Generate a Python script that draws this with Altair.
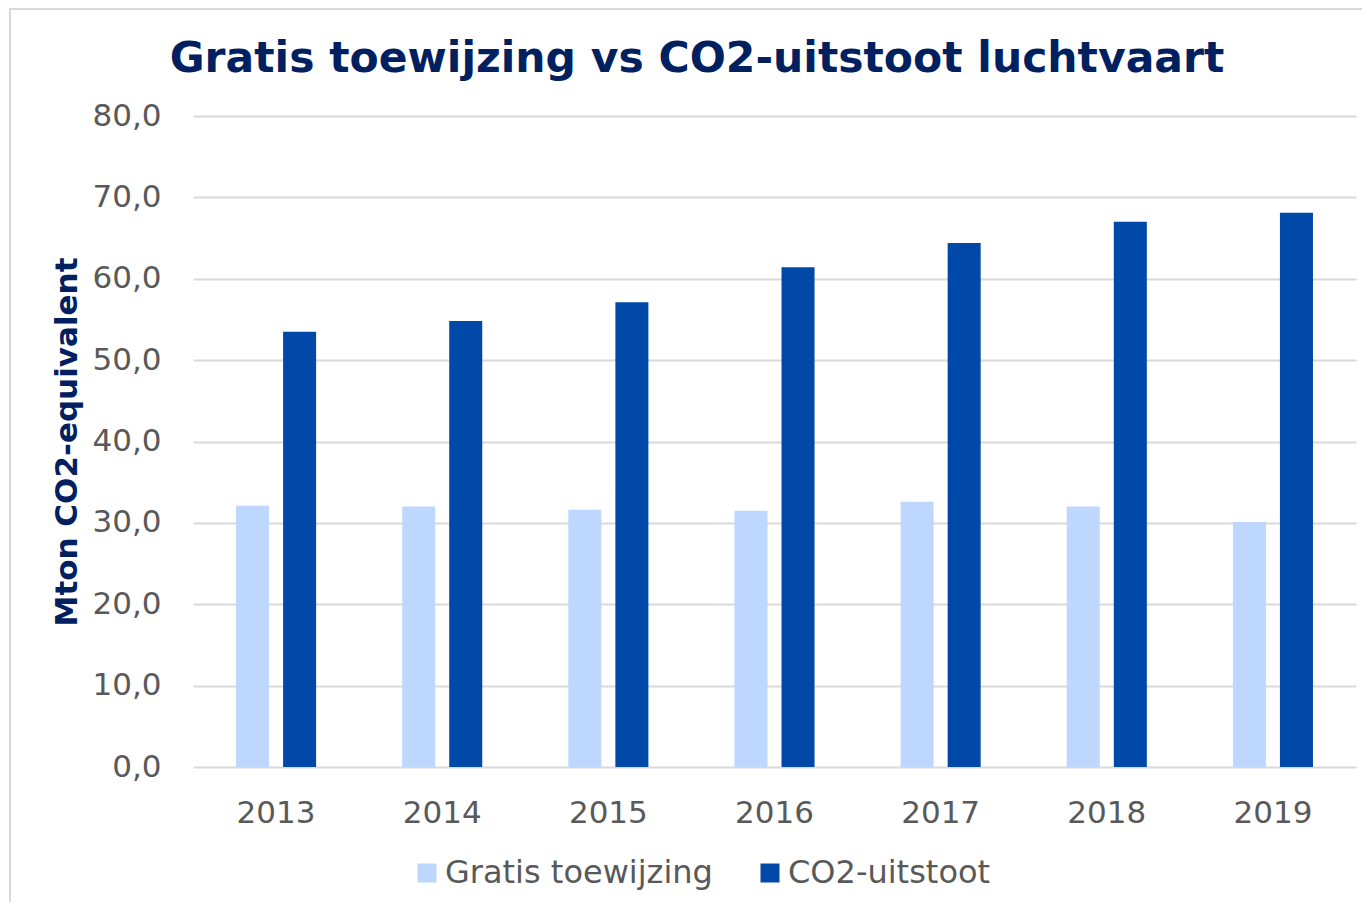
import altair as alt
import pandas as pd

years = ["2013", "2014", "2015", "2016", "2017", "2018", "2019"]
series_names = ["Gratis toewijzing", "CO2-uitstoot"]
gratis = [32.1, 32.0, 31.6, 31.5, 32.6, 32.0, 30.1]
uitstoot = [53.5, 54.8, 57.1, 61.4, 64.4, 67.0, 68.1]
colors = ["#BDD7FE", "#0049A8"]
y_ticks = [0, 10, 20, 30, 40, 50, 60, 70, 80]
title_text = "Gratis toewijzing vs CO2-uitstoot luchtvaart"

rows = []
for i, y in enumerate(years):
    rows.append({"year": y, "series": series_names[0], "value": gratis[i]})
    rows.append({"year": y, "series": series_names[1], "value": uitstoot[i]})
df = pd.DataFrame(rows)

FONT = "DejaVu Sans"
GRAY = "#595959"
NAVY = "#002060"

bars = alt.Chart(df).mark_bar().encode(
    x=alt.X(
        "year:N",
        sort=years,
        scale=alt.Scale(paddingInner=0.518, paddingOuter=0.259),
        axis=alt.Axis(
            title=None,
            labelFont=FONT,
            labelFontSize=31,
            labelColor=GRAY,
            labelAngle=0,
            labelBaseline="alphabetic",
            labelPadding=55,
            ticks=False,
            tickSize=0,
            domain=False,
            grid=False,
        ),
    ),
    xOffset=alt.XOffset(
        "series:N",
        sort=series_names,
        scale=alt.Scale(paddingInner=0.298, paddingOuter=0),
    ),
    y=alt.Y(
        "value:Q",
        scale=alt.Scale(domain=[0, 80]),
        axis=alt.Axis(
            title="Mton CO2-equivalent",
            titleFont=FONT,
            titleFontSize=31,
            titleFontWeight="bold",
            titleColor=NAVY,
            titleBaseline="alphabetic",
            titleX=-117,
            titleY=325.5,
            titleAngle=-90,
            values=y_ticks,
            labelExpr="replace(format(datum.value, '.1f'), '.', ',')",
            labelFont=FONT,
            labelFontSize=31,
            labelColor=GRAY,
            labelPadding=32,
            labelBaseline="middle",
            ticks=False,
            tickSize=0,
            domain=False,
            grid=True,
            gridColor="#D9D9D9",
            gridWidth=2,
        ),
    ),
    color=alt.Color(
        "series:N",
        scale=alt.Scale(domain=series_names, range=colors),
        legend=alt.Legend(
            orient="none",
            legendX=218,
            legendY=741,
            direction="horizontal",
            title=None,
            symbolType="square",
            symbolSize=361,
            symbolStrokeWidth=0,
            labelFont=FONT,
            labelFontSize=32,
            labelColor=GRAY,
            labelOffset=2,
            labelLimit=500,
            columnPadding=41,
            padding=0,
        ),
    ),
)

frame_left = alt.Chart(df).mark_rule(color="#D9D9D9", strokeWidth=2).encode(
    x=alt.value(-183), y=alt.value(-108), y2=alt.value(900)
)
frame_top = alt.Chart(df).mark_rule(color="#D9D9D9", strokeWidth=2).encode(
    x=alt.value(-183), x2=alt.value(1200), y=alt.value(-107)
)
title_mark = alt.Chart(df.head(1)).mark_text(
    font=FONT,
    fontSize=42.5,
    fontWeight="bold",
    color=NAVY,
    align="center",
    baseline="alphabetic",
).encode(
    x=alt.value(504),
    y=alt.value(-44),
    text=alt.value(title_text),
)

chart = alt.layer(frame_left, frame_top, bars, title_mark).properties(
    width=1163,
    height=651,
    autosize=alt.AutoSizeParams(type="none"),
    padding={"left": 185, "top": 108, "right": 6, "bottom": 135},
    view=alt.ViewBackground(stroke="transparent", strokeWidth=0),
).configure_view(stroke="transparent", strokeWidth=0).configure(background="white")

chart.save("out.html", embed_options={"renderer": "svg", "actions": False})
